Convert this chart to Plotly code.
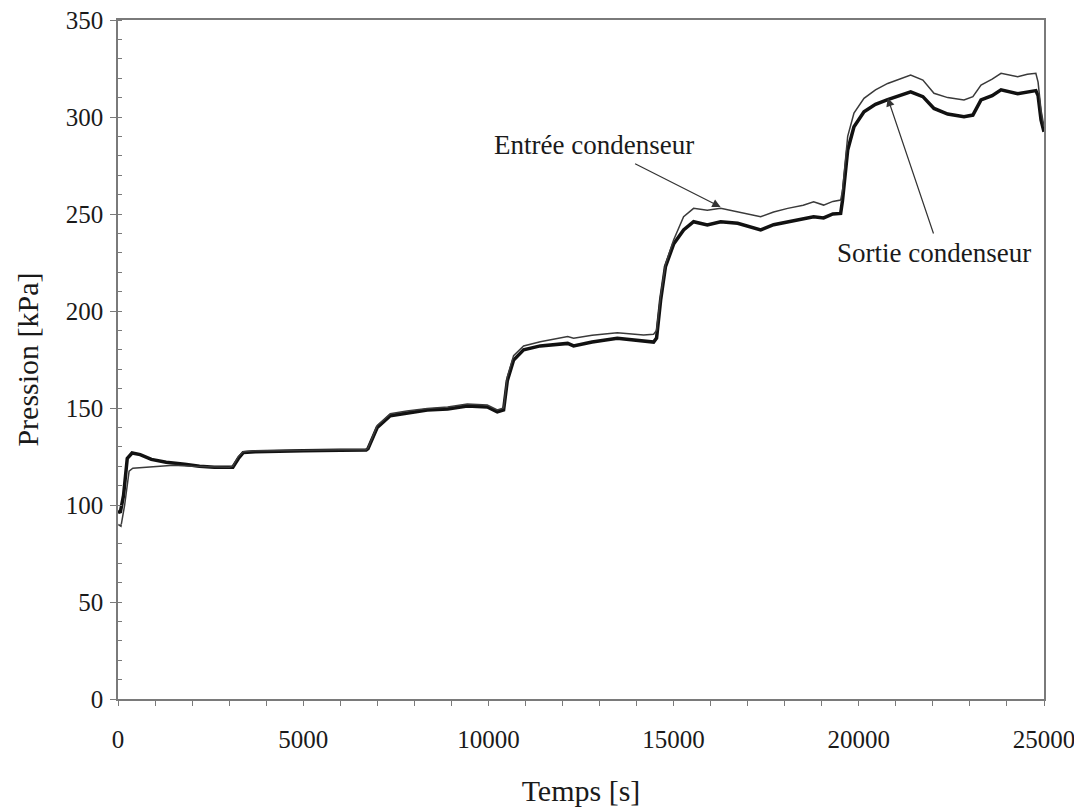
import plotly.graph_objects as go

# Time [s] and pressure [kPa]
t_sortie = [0, 60, 150, 250, 380, 600, 900, 1300, 1800, 2200, 2600, 3000, 3100, 3250, 3380,
            3700, 4200, 5000, 6000, 6700, 6750, 7000, 7350, 7800, 8350, 8900, 9430, 9970,
            10240, 10410, 10510, 10680, 10950, 11400, 12140, 12300, 12800, 13480, 13900,
            14190, 14460, 14540, 14650, 14780, 15000, 15270, 15540, 15910, 16270, 16730,
            17050, 17350, 17700, 18080, 18500, 18780, 19050, 19300, 19510, 19560, 19700,
            19870, 20140, 20450, 20780, 21100, 21400, 21730, 22030, 22400, 22840, 23080,
            23300, 23600, 23840, 24290, 24550, 24780, 24840, 24920, 25000]
p_sortie = [97, 96, 105, 124, 126.8, 126, 123.5, 122, 121, 120, 119.5, 119.3, 119.5, 124, 127,
            127.5, 127.8, 128, 128.2, 128.3, 129, 140, 146, 147.5, 149, 149.5, 151, 150.5,
            148, 149, 164, 174.7, 180, 182, 183.3, 182, 184, 186, 185,
            184.2, 184, 186, 205.7, 222.8, 234.5, 241.8, 246, 244.3, 246, 245.2,
            243.5, 241.8, 244.5, 246, 247.5, 248.6, 248, 250, 250.3, 257, 283,
            295, 302.7, 306.5, 309, 311, 313, 310.5, 304.4, 301.5, 300.2, 301,
            308.8, 311, 314, 312, 313, 313.6, 311, 298.5, 292.4]

t_entree = [0, 80, 180, 300, 400, 700, 1000, 1500, 2000, 2600, 3000, 3100, 3250, 3380,
            3700, 4200, 5000, 6000, 6700, 6750, 7000, 7350, 7800, 8350, 8900, 9430, 9970,
            10240, 10410, 10510, 10680, 10950, 11400, 12140, 12300, 12800, 13480, 13900,
            14190, 14460, 14540, 14650, 14780, 15000, 15270, 15540, 15910, 16270, 16730,
            17050, 17350, 17700, 18080, 18500, 18780, 19050, 19300, 19510, 19560, 19700,
            19870, 20140, 20450, 20780, 21100, 21400, 21730, 22030, 22400, 22840, 23080,
            23300, 23600, 23840, 24290, 24550, 24780, 24840, 24920, 25000]
p_entree = [90, 89, 100, 117.5, 119, 119.5, 120, 120.5, 120, 119.5, 119.5, 120, 125, 127.5,
            128, 128, 128.3, 128.5, 128.5, 129.5, 141, 147, 148.5, 149.8, 150.5, 152, 151.5,
            149, 150, 166, 177, 182, 184.2, 186.8, 186, 187.5, 188.8, 188,
            187.6, 188, 190, 208, 224, 236.6, 248.6, 252.9, 252, 252.9, 251.2,
            250, 248.6, 251, 252.9, 254.5, 256.3, 254.6, 256.5, 257.2, 262, 290,
            302, 309.6, 314, 317.3, 319.5, 321.6, 319, 312.2, 310, 308.8, 310.5,
            316.5, 319.5, 322.5, 320.7, 322, 322.5, 318, 303.6, 295]

x_title = "Temps [s]"
y_title = "Pression [kPa]"
label_entree = "Entrée condenseur"
label_sortie = "Sortie condenseur"

FONT = "Liberation Serif, Times New Roman, serif"
TXT = "#1a1a1a"
AXC = "#7a7a7a"

fig = go.Figure()
fig.add_trace(go.Scatter(x=t_sortie, y=p_sortie, mode="lines",
                         line=dict(color="#111111", width=3.5), name=label_sortie))
fig.add_trace(go.Scatter(x=t_entree, y=p_entree, mode="lines",
                         line=dict(color="#3a3a3a", width=1.5), name=label_entree))

fig.update_layout(
    width=1074, height=802,
    margin=dict(l=110, r=38, t=12, b=111),
    paper_bgcolor="white", plot_bgcolor="white",
    showlegend=False,
    font=dict(family=FONT, color=TXT, size=25),
)
fig.update_xaxes(
    range=[0, 25000], dtick=5000, tick0=0, tickformat="d", automargin=False,
    ticklabeloverflow="allow",
    showgrid=False, zeroline=False,
    showline=True, linecolor=AXC, linewidth=1.5, mirror=True,
    ticks="outside", ticklen=5, tickcolor=AXC, tickwidth=1.2,
    minor=dict(dtick=1000, ticks="outside", ticklen=5, tickcolor=AXC, tickwidth=1.2),
    tickfont=dict(family=FONT, size=25, color=TXT),
    ticklabelstandoff=12,
    title=dict(text=x_title, font=dict(family=FONT, size=30, color=TXT), standoff=28),
)
fig.update_yaxes(
    range=[0, 350], dtick=50, tick0=0, automargin=False,
    ticklabeloverflow="allow",
    showgrid=False, zeroline=False,
    showline=True, linecolor=AXC, linewidth=1.5, mirror=True,
    ticks="outside", ticklen=6, tickcolor=AXC, tickwidth=1.2,
    minor=dict(dtick=10, ticks="inside", ticklen=4, tickcolor=AXC, tickwidth=1.2),
    tickfont=dict(family=FONT, size=25, color=TXT),
    ticklabelstandoff=2,
    title=dict(text=y_title, font=dict(family=FONT, size=30, color=TXT), standoff=18),
)

# Arrows
fig.add_annotation(x=16270, y=253.6, ax=13920, ay=276.3, xref="x", yref="y",
                   axref="x", ayref="y", text="", showarrow=True,
                   arrowhead=2, arrowsize=1.4, arrowwidth=1.2, arrowcolor="#333333", standoff=0)
fig.add_annotation(x=20780, y=309.8, ax=22030, ay=239.2, xref="x", yref="y",
                   axref="x", ayref="y", text="", showarrow=True,
                   arrowhead=2, arrowsize=1.4, arrowwidth=1.2, arrowcolor="#333333", standoff=0)
# Labels
fig.add_annotation(x=12840, y=285.6, xref="x", yref="y", text=label_entree, showarrow=False,
                   font=dict(family=FONT, size=27, color=TXT))
fig.add_annotation(x=22030, y=229.9, xref="x", yref="y", text=label_sortie, showarrow=False,
                   font=dict(family=FONT, size=27, color=TXT))

fig.write_html("out.html")
